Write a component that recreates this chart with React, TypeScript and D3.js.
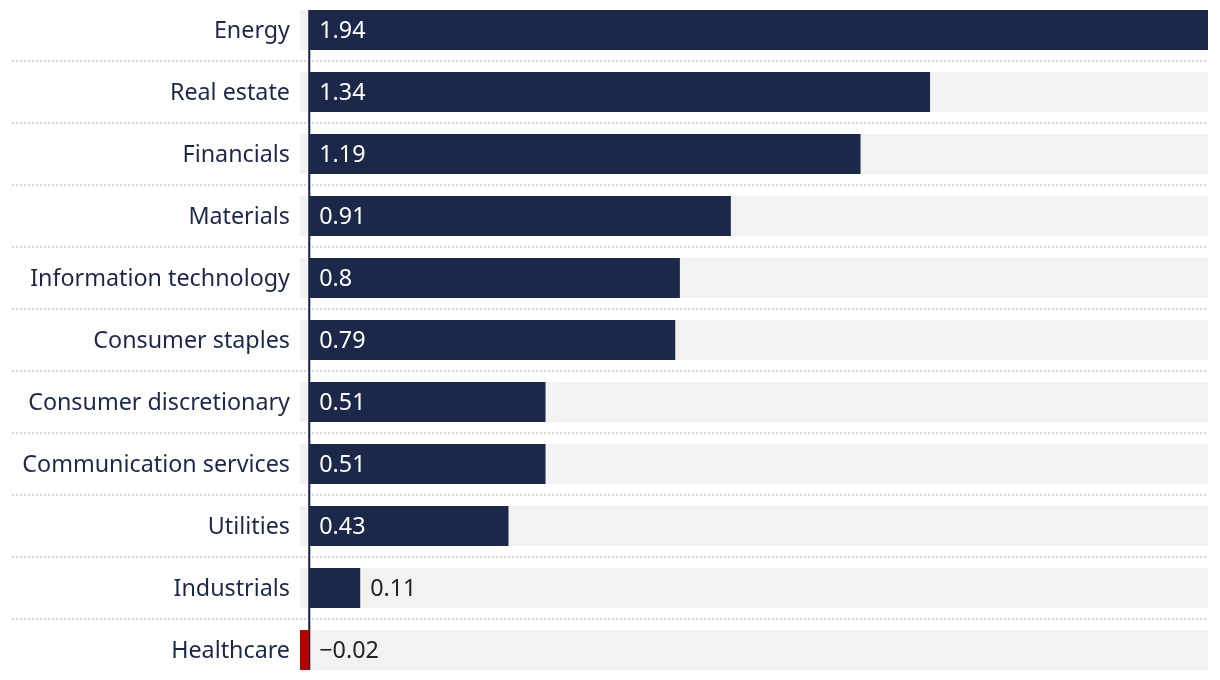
import React from 'react'
import * as d3 from 'd3'

const sectors = [
  'Energy',
  'Real estate',
  'Financials',
  'Materials',
  'Information technology',
  'Consumer staples',
  'Consumer discretionary',
  'Communication services',
  'Utilities',
  'Industrials',
  'Healthcare',
]

const values = [1.94, 1.34, 1.19, 0.91, 0.8, 0.79, 0.51, 0.51, 0.43, 0.11, -0.02]

const labelsText = ['1.94', '1.34', '1.19', '0.91', '0.8', '0.79', '0.51', '0.51', '0.43', '0.11', '\u22120.02']

const WIDTH = 1220
const HEIGHT = 680
const FONT = "'Noto Sans', 'Open Sans', sans-serif"

export default function App() {
  const margin = { top: 0, right: 12, bottom: 10, left: 300 }

  const x = d3.scaleLinear()
    .domain([-0.02, 1.94])
    .range([margin.left, WIDTH - margin.right])

  const y = d3.scaleBand()
    .domain(sectors)
    .range([-1, 681])
    .paddingInner(22 / 62)
    .paddingOuter(11 / 62)

  const bw = y.bandwidth()
  const step = y.step()
  const zero = x(0)

  return (
    <div style={{ position: 'fixed', left: 0, top: 0 }}>
      <svg width={WIDTH} height={HEIGHT} style={{ display: 'block', fontFamily: FONT }}>
        {/* background bands */}
        {sectors.map(s => (
          <rect key={`bg-${s}`} x={x.range()[0]} y={y(s)} width={x.range()[1] - x.range()[0]} height={bw} fill="#f2f2f2" />
        ))}

        {/* dotted separators */}
        {sectors.slice(1).map(s => (
          <line
            key={`sep-${s}`}
            x1={12}
            x2={WIDTH - margin.right}
            y1={(y(s) as number) - (step - bw) / 2}
            y2={(y(s) as number) - (step - bw) / 2}
            stroke="#d6d6d6"
            strokeWidth={2}
            strokeDasharray="2 2"
          />
        ))}

        {/* zero axis */}
        <line x1={zero} x2={zero} y1={y(sectors[0])} y2={(y(sectors[sectors.length - 1]) as number) + bw} stroke="#141d3d" strokeWidth={2} />

        {/* bars */}
        {sectors.map((s, i) => {
          const v = values[i]
          const x0 = x(Math.min(0, v))
          const x1 = x(Math.max(0, v))
          return (
            <rect key={`bar-${s}`} x={x0} y={y(s)} width={x1 - x0} height={bw} fill={v < 0 ? '#b30000' : '#1c2849'} />
          )
        })}

        {/* category labels */}
        {sectors.map(s => (
          <text
            key={`lab-${s}`}
            x={290}
            y={(y(s) as number) + bw / 2}
            dy="0.35em"
            textAnchor="end"
            fontSize={23.3}
            fill="#1c2849"
          >
            {s}
          </text>
        ))}

        {/* value labels */}
        {sectors.map((s, i) => {
          const v = values[i]
          const barW = x(Math.max(0, v)) - zero
          const inside = barW > 80
          const tx = v < 0 ? zero + 10 : inside ? zero + 10 : zero + barW + 10
          return (
            <text
              key={`val-${s}`}
              x={tx}
              y={(y(s) as number) + bw / 2}
              dy="0.35em"
              fontSize={23.3}
              fill={inside && v > 0 ? '#ffffff' : '#222222'}
            >
              {labelsText[i]}
            </text>
          )
        })}
      </svg>
    </div>
  )
}
